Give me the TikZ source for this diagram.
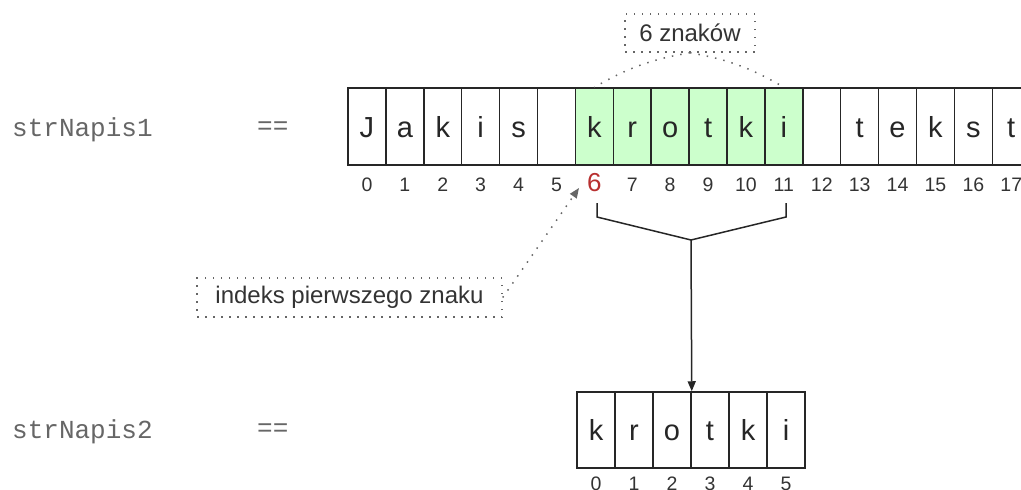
\documentclass[tikz,border=0pt]{standalone}
\usepackage{fontspec}
\setmainfont{Liberation Sans}
\setmonofont{Liberation Mono}
\usetikzlibrary{arrows.meta,calc}
\definecolor{cellgreen}{HTML}{CCFFCC}
\definecolor{idxred}{HTML}{B83030}
\definecolor{lbl}{HTML}{666666}
\begin{document}
\begin{tikzpicture}[x=1pt,y=-1pt,
  cellbox/.style={draw=black!85,line width=1.5pt,minimum width=37.9pt,minimum height=77pt,inner sep=0pt,
    text height=21pt,text depth=0pt,text=black!85,font=\fontsize{29}{29}\selectfont},
  cellboxb/.style={cellbox,minimum width=38pt,minimum height=76pt},
  idxlbl/.style={inner sep=0pt,text height=14pt,text depth=0pt,text=black!80,font=\fontsize{19.5}{19.5}\selectfont},
  varlbl/.style={inner sep=0pt,anchor=west,text=lbl,font=\ttfamily\fontsize{26}{26}\selectfont},
  dotbox/.style={draw=black!60,line width=1.5pt,dash pattern=on 1.5pt off 6.5pt,inner sep=0pt,
    text=black!80,font=\fontsize{24}{24}\selectfont},
  dotline/.style={draw=black!60,line width=1.5pt,dash pattern=on 1.5pt off 7pt},
  brk/.style={draw=black!85,line width=1.5pt},
  tip/.style={-{Triangle[length=10pt,width=8pt]}}
]
\useasboundingbox (0,0) rectangle (1021,490);

% labels
\node[varlbl] (v1) at (12,130) {strNapis1};
\node[varlbl] (e1) at (257,128) {==};
\node[varlbl] (v2) at (12,432) {strNapis2};
\node[varlbl] (e2) at (257,430) {==};

% top row
\foreach \ch [count=\n from 0] in {J,a,k,i,s,{},k,r,o,t,k,i,{},t,e,k,s,t}{
  \pgfmathsetmacro{\cx}{348+(\n+0.5)*37.9}
  \ifnum\n>5 \ifnum\n<12
    \node[cellbox,fill=cellgreen] (c\n) at (\cx,126.5) {\ch};
  \else
    \node[cellbox] (c\n) at (\cx,126.5) {\ch};
  \fi\else
    \node[cellbox] (c\n) at (\cx,126.5) {\ch};
  \fi
  \ifnum\n=6
    \node[idxlbl,text=idxred,text height=18pt,font=\fontsize{26}{26}\selectfont] (i\n) at (\cx,182) {\n};
  \else
    \node[idxlbl] (i\n) at (\cx,184) {\n};
  \fi
}

% bottom row
\foreach \ch [count=\n from 0] in {k,r,o,t,k,i}{
  \pgfmathsetmacro{\cx}{577+(\n+0.5)*38}
  \node[cellboxb] (d\n) at (\cx,430) {\ch};
  \node[idxlbl] (j\n) at (\cx,483) {\n};
}

% 6 znakow box
\node[dotbox,minimum width=130pt,minimum height=38pt] (zn) at (690,33) {6 znaków};
\draw[dotline] (zn.south) to[bend right=10] (c6.north);
\draw[dotline] (zn.south) to[bend left=10] (c11.north);

% bracket
\coordinate (bL) at (597,203);
\coordinate (bR) at (786,203);
\coordinate (bM) at (691,240);
\draw[brk] (bL) -- ++(0,14) -- (bM) -- (786,217) -- (bR);
\draw[brk,tip] (bM) -- (d2.north east);

% first index box
\node[dotbox,minimum width=305pt,minimum height=39pt] (ix) at (349.5,297.5) {indeks pierwszego znaku};
\coordinate (ixt) at (579,188);
\draw[dotline,tip] (ix.east) -- (ixt);
\end{tikzpicture}
\end{document}
